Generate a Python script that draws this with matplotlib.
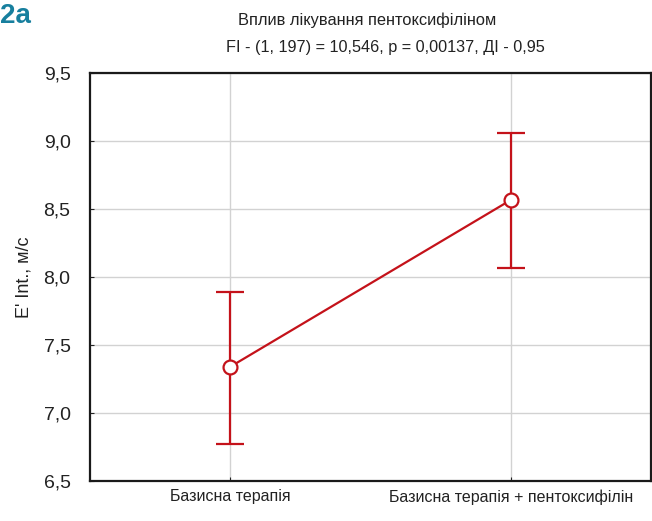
import matplotlib
matplotlib.use("Agg")
import matplotlib.pyplot as plt
from matplotlib import font_manager

categories = ["Базисна терапія", "Базисна терапія + пентоксифілін"]
means = [7.34, 8.566]
upper = [7.89, 9.06]
lower = [6.77, 8.065]
yticks = [6.5, 7.0, 7.5, 8.0, 8.5, 9.0, 9.5]
ytick_labels = ["6,5", "7,0", "7,5", "8,0", "8,5", "9,0", "9,5"]

names = {f.name for f in font_manager.fontManager.ttflist}
fam = ["Liberation Sans Narrow", "Liberation Sans", "DejaVu Sans"]
fam = [f for f in fam if f in names] or ["DejaVu Sans"]
plt.rcParams["font.family"] = fam

fig = plt.figure(figsize=(6.52, 5.21), dpi=100)
ax = fig.add_axes([90/652, 40/521, (651-90)/652, (481-73)/521])

red = "#c4121a"
x = list(range(len(categories)))
yerr = [[m - l for m, l in zip(means, lower)], [u - m for u, m in zip(upper, means)]]
ax.errorbar(x, means, yerr=yerr, color=red, lw=1.6, capsize=10, capthick=1.6,
            marker="o", markersize=10, markerfacecolor="white", markeredgecolor=red,
            markeredgewidth=1.6, zorder=3)

ax.set_xlim(-0.5, 1.5)
ax.set_ylim(6.5, 9.5)
ax.set_yticks(yticks)
ax.set_yticklabels(ytick_labels)
ax.set_xticks(x)
ax.set_xticklabels(categories)
ax.grid(True, color="#d2d2d2", lw=1)
ax.set_axisbelow(True)
ax.tick_params(direction="in", length=3, colors="#222222")
ax.tick_params(axis="y", pad=14, labelsize=14)
ax.tick_params(axis="x", pad=6, labelsize=11.5)
for s in ax.spines.values():
    s.set_linewidth(1.6)
    s.set_color("#1a1a1a")
ax.set_ylabel("E' Int., м/с", fontsize=13, color="#222222", labelpad=8)

fig.text(367/652, 1 - 20/521, "Вплив лікування пентоксифіліном", ha="center", va="center",
         fontsize=11.8, color="#222222")
fig.text(385/652, 1 - 47/521, "FI - (1, 197) = 10,546, p = 0,00137, ДІ - 0,95", ha="center",
         va="center", fontsize=11.7, color="#222222")
fig.text(0/652, 1 - 16/521, "2a", ha="left", va="center", fontsize=20, fontweight="bold",
         color="#177f9e")

fig.savefig("out.png", dpi=100)
